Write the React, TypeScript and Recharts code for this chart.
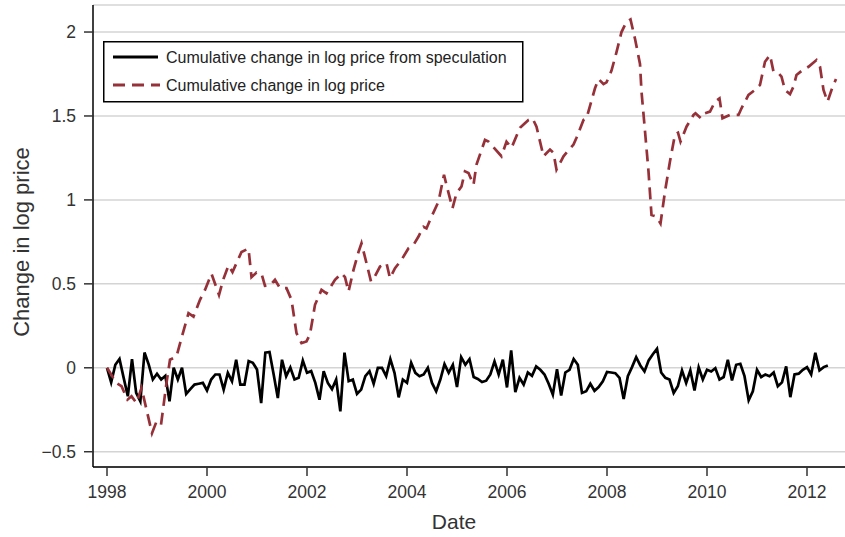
import React from 'react';
import { LineChart, Line, XAxis, YAxis, CartesianGrid, Legend, Label } from 'recharts';

// Monthly, January 1998 to June 2012
const START_YEAR = 1998;
const speculation = [
  0, -0.087, 0.018, 0.052, -0.06, -0.17, 0.052, -0.15, -0.2, 0.091, 0.02, -0.07,
  -0.036, -0.07, -0.048, -0.2, 0, -0.07, 0, -0.156, -0.127, -0.1, -0.095, -0.09,
  -0.135, -0.07, -0.04, -0.04, -0.13, -0.03, -0.08, 0.048, -0.1, -0.1, 0.04, 0.03,
  -0.01, -0.21, 0.09, 0.094, -0.04, -0.18, 0.048, -0.05, 0.002, -0.07, -0.06, 0.043,
  -0.03, -0.02, -0.09, -0.19, -0.02, -0.09, -0.127, -0.07, -0.26, 0.09, -0.08, -0.07,
  -0.155, -0.13, -0.05, -0.02, -0.095, 0, 0, -0.05, 0.052, -0.03, -0.176, -0.07,
  -0.09, 0.03, -0.03, -0.05, -0.04, 0, -0.09, -0.14, -0.07, 0.022, -0.03, 0.018,
  -0.115, 0.063, 0.018, 0.052, -0.055, -0.067, -0.085, -0.077, -0.04, 0.038, -0.04, 0.048,
  -0.117, 0.103, -0.145, -0.06, -0.1, -0.028, -0.048, 0.008, -0.012, -0.04, -0.095, -0.16,
  -0.008, -0.165, -0.028, -0.012, 0.052, 0.018, -0.15, -0.14, -0.095, -0.137, -0.115, -0.08,
  -0.025, -0.028, -0.032, -0.06, -0.186, -0.05, 0.004, 0.063, 0.014, -0.022, 0.044, 0.081,
  0.113, -0.028, -0.06, -0.07, -0.15, -0.11, -0.016, -0.09, -0.016, -0.135, 0.002, -0.07,
  -0.012, -0.022, -0.002, -0.07, -0.055, 0.048, -0.075, 0.018, 0.024, -0.05, -0.194, -0.14,
  -0.012, -0.055, -0.04, -0.05, -0.028, -0.11, -0.087, 0.008, -0.175, -0.04, -0.035, -0.012,
  0.004, -0.04, 0.089, -0.016, 0.004, 0.014,
];

const priceDates = [
  1998.0, 1998.19, 1998.29, 1998.41, 1998.49, 1998.59, 1998.69, 1998.9, 1998.99, 1999.08,
  1999.19, 1999.26, 1999.39, 1999.49, 1999.63, 1999.73, 1999.86, 1999.96, 2000.09, 2000.24,
  2000.33, 2000.43, 2000.51, 2000.69, 2000.83, 2000.89, 2000.99, 2001.09, 2001.16, 2001.26,
  2001.36, 2001.46, 2001.59, 2001.69, 2001.79, 2001.89, 2001.99, 2002.06, 2002.16, 2002.29,
  2002.39, 2002.56, 2002.69, 2002.76, 2002.83, 2002.93, 2003.03, 2003.09, 2003.19, 2003.28,
  2003.35, 2003.46, 2003.59, 2003.66, 2003.76, 2003.89, 2004.03, 2004.13, 2004.23, 2004.33,
  2004.39, 2004.49, 2004.63, 2004.74, 2004.79, 2004.91, 2004.99, 2005.09, 2005.16, 2005.23,
  2005.33, 2005.39, 2005.56, 2005.63, 2005.89, 2005.99, 2006.09, 2006.26, 2006.43, 2006.51,
  2006.59, 2006.73, 2006.86, 2006.93, 2006.99, 2007.13, 2007.33, 2007.39, 2007.53, 2007.59,
  2007.76, 2007.83, 2007.93, 2007.99, 2008.09, 2008.19, 2008.29, 2008.39, 2008.47, 2008.56,
  2008.66, 2008.69, 2008.76, 2008.83, 2008.89, 2008.99, 2009.07, 2009.16, 2009.26, 2009.36,
  2009.42, 2009.47, 2009.59, 2009.73, 2009.77, 2009.88, 2009.96, 2010.06, 2010.16, 2010.25,
  2010.31, 2010.46, 2010.63, 2010.69, 2010.83, 2010.96, 2011.06, 2011.16, 2011.26, 2011.33,
  2011.43, 2011.49, 2011.56, 2011.66, 2011.73, 2011.79, 2011.89, 2012.03, 2012.19, 2012.26,
  2012.33, 2012.41, 2012.49, 2012.58,
];
const priceValues = [
  0, -0.09, -0.11, -0.19, -0.17, -0.21, -0.12, -0.39, -0.32, -0.34,
  -0.09, 0.048, 0.067, 0.177, 0.325, 0.305, 0.405, 0.464, 0.56, 0.434,
  0.53, 0.61, 0.57, 0.69, 0.71, 0.54, 0.567, 0.56, 0.488, 0.49,
  0.524, 0.474, 0.474, 0.405, 0.206, 0.147, 0.157, 0.2, 0.375, 0.464,
  0.444, 0.524, 0.563, 0.54, 0.454, 0.583, 0.69, 0.742, 0.623, 0.514,
  0.54, 0.603, 0.623, 0.534, 0.593, 0.643, 0.712, 0.732, 0.782, 0.84,
  0.83, 0.9, 0.99, 1.149, 1.089, 0.95, 1.04, 1.08, 1.17, 1.16,
  1.09, 1.21, 1.357, 1.347, 1.26, 1.347, 1.31, 1.43, 1.476, 1.486,
  1.436, 1.26, 1.3, 1.28, 1.18, 1.26, 1.33, 1.37, 1.476, 1.486,
  1.665, 1.72, 1.69, 1.7, 1.77, 1.88, 2.0, 2.06, 2.075, 1.96,
  1.81, 1.645, 1.41, 1.17, 0.91, 0.9, 0.86, 1.05, 1.23, 1.39,
  1.4, 1.347, 1.436, 1.506, 1.516, 1.486, 1.516, 1.526, 1.585, 1.605,
  1.486, 1.506, 1.506, 1.546, 1.625, 1.655, 1.685, 1.823, 1.863, 1.764,
  1.754, 1.734, 1.655, 1.63, 1.675, 1.744, 1.768, 1.793, 1.833, 1.793,
  1.655, 1.585, 1.655, 1.72,
];

const xTicks = [1998, 2000, 2002, 2004, 2006, 2008, 2010, 2012];
const yTicks = [-0.5, 0, 0.5, 1, 1.5, 2];

const specData = speculation.map((v, i) => ({ t: START_YEAR + i / 12, v }));
const priceData = priceDates.map((t, i) => ({ t, v: priceValues[i] }));

const FONT = '"Liberation Sans", Arial, Helvetica, sans-serif';
const RED = '#963139';

const fmtY = (v: number) => (v < 0 ? '\u2212' + Math.abs(v) : String(v));

const LegendBox = () => (
  <svg width={421} height={62} style={{ display: 'block' }}>
    <rect x={0.75} y={0.75} width={419} height={60} fill="#fff" stroke="#000" strokeWidth={1.5} />
    <line x1={10} y1={16} x2={55} y2={16} stroke="#000" strokeWidth={2.8} />
    <text x={63} y={21.5} fontSize={16} fontFamily={FONT} fill="#222">
      Cumulative change in log price from speculation
    </text>
    <line x1={10} y1={44} x2={57} y2={44} stroke={RED} strokeWidth={2.8} strokeDasharray="12 7" />
    <text x={63} y={49.5} fontSize={16} fontFamily={FONT} fill="#222">
      Cumulative change in log price
    </text>
  </svg>
);

export default function App() {
  return (
    <div style={{ position: 'absolute', left: 0, top: 0 }}>
      <LineChart width={845} height={537} margin={{ top: 5, right: 0, left: 0, bottom: 0 }}>
        <CartesianGrid vertical={false} stroke="#d4d4d4" strokeWidth={1.5} />
        <XAxis
          type="number"
          dataKey="t"
          domain={[1997.72, 2012.76]}
          ticks={xTicks}
          allowDataOverflow
          height={70}
          tickSize={9}
          tickMargin={10}
          axisLine={{ stroke: '#000', strokeWidth: 1.5 }}
          tickLine={{ stroke: '#333', strokeWidth: 1.5 }}
          tick={{ fill: '#333', fontSize: 17.5, fontFamily: FONT }}
        >
          <Label
            content={() => (
              <text x={454} y={529} textAnchor="middle" fontSize={21} fontFamily={FONT} fill="#333">
                Date
              </text>
            )}
          />
        </XAxis>
        <YAxis
          type="number"
          domain={[-0.591, 2.161]}
          ticks={yTicks}
          allowDataOverflow
          width={93}
          tickSize={9}
          tickMargin={8}
          tickFormatter={fmtY}
          axisLine={{ stroke: '#000', strokeWidth: 1.5 }}
          tickLine={{ stroke: '#333', strokeWidth: 1.5 }}
          tick={{ fill: '#333', fontSize: 17.5, fontFamily: FONT }}
        >
          <Label
            content={() => (
              <text
                x={21}
                y={242}
                transform="rotate(-90, 21, 242)"
                textAnchor="middle"
                dominantBaseline="central"
                fontSize={22}
                fontFamily={FONT}
                fill="#333"
              >
                Change in log price
              </text>
            )}
          />
        </YAxis>
        <Legend
          layout="vertical"
          align="center"
          verticalAlign="middle"
          content={() => <LegendBox />}
          wrapperStyle={{ left: 103, top: 41, width: 421, height: 62 }}
        />
        <Line
          data={specData}
          dataKey="v"
          type="linear"
          stroke="#000"
          strokeWidth={2.7}
          dot={false}
          activeDot={false}
          isAnimationActive={false}
        />
        <Line
          data={priceData}
          dataKey="v"
          type="linear"
          stroke={RED}
          strokeWidth={2.7}
          strokeDasharray="12 7"
          dot={false}
          activeDot={false}
          isAnimationActive={false}
        />
      </LineChart>
    </div>
  );
}
